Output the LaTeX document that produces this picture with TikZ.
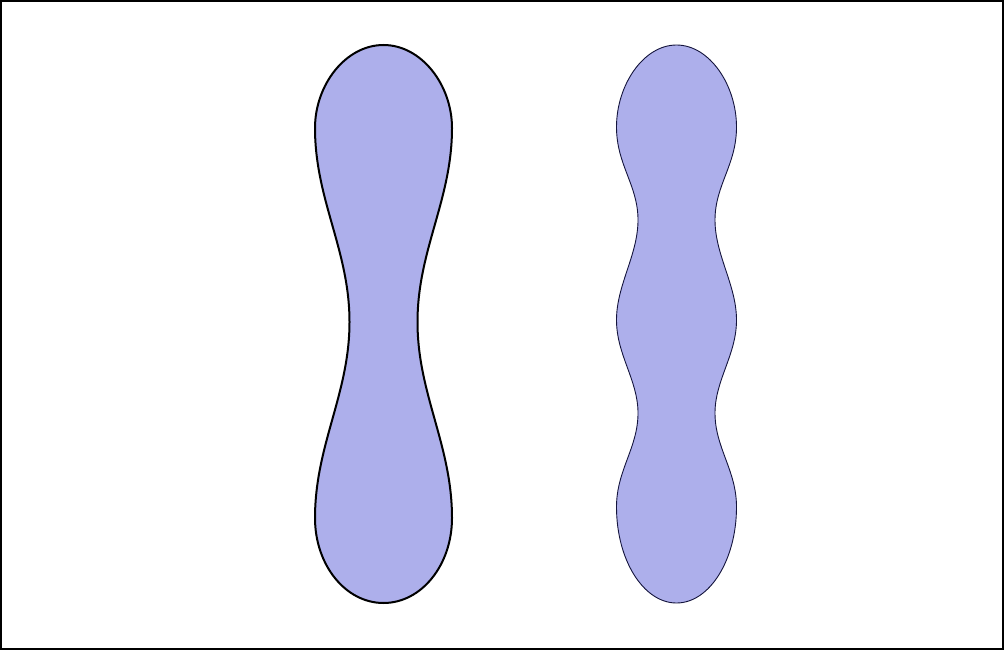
\documentclass[tikz,border=0pt]{standalone}
\begin{document}
\begin{tikzpicture}[x=1pt,y=-1pt,
  blobfill/.style={fill={rgb,255:red,173;green,175;blue,235}},
  thickblob/.style={blobfill,draw=black,line width=2pt},
  thinblob/.style={blobfill,draw={rgb,255:red,20;green,20;blue,60},line width=0.9pt}]
\useasboundingbox (0,0) rectangle (1004,650);
\draw[line width=2pt] (1,1) rectangle (1003,649);
% left blob: two bulbs, one neck
\begin{scope}[shift={(383.5,0)}]
\draw[thickblob] (0,45)
  .. controls (38,45) and (68.5,85) .. (68.5,128)
  .. controls (68.5,200) and (34,250) .. (34,322)
  .. controls (34,394) and (68.5,445) .. (68.5,518)
  .. controls (68.5,565) and (38,603) .. (0,603)
  .. controls (-38,603) and (-68.5,565) .. (-68.5,518)
  .. controls (-68.5,445) and (-34,394) .. (-34,322)
  .. controls (-34,250) and (-68.5,200) .. (-68.5,128)
  .. controls (-68.5,85) and (-38,45) .. (0,45) -- cycle;
\end{scope}
% right blob: three bulges, two necks
\begin{scope}[shift={(676.5,0)}]
\draw[thinblob] (0,45)
  .. controls (33,45) and (60,85) .. (60,127)
  .. controls (60,165) and (38.5,185) .. (38.5,220)
  .. controls (38.5,255) and (60,285) .. (60,320)
  .. controls (60,355) and (38.5,380) .. (38.5,413)
  .. controls (38.5,448) and (60,470) .. (60,507)
  .. controls (60,560) and (33,603) .. (0,603)
  .. controls (-33,603) and (-60,560) .. (-60,507)
  .. controls (-60,470) and (-38.5,448) .. (-38.5,413)
  .. controls (-38.5,380) and (-60,355) .. (-60,320)
  .. controls (-60,285) and (-38.5,255) .. (-38.5,220)
  .. controls (-38.5,185) and (-60,165) .. (-60,127)
  .. controls (-60,85) and (-33,45) .. (0,45) -- cycle;
\end{scope}
\end{tikzpicture}
\end{document}
